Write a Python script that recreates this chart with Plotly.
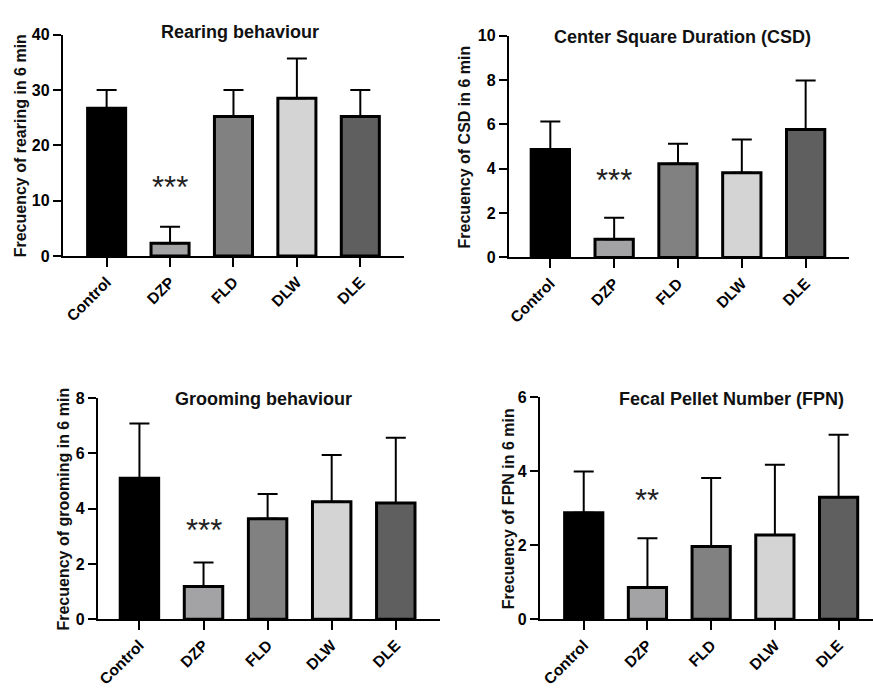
import plotly.graph_objects as go

W, H = 873, 689

categories = ["Control", "DZP", "FLD", "DLW", "DLE"]
colors = ["#000000", "#a3a3a5", "#818181", "#d4d4d4", "#5f5f5f"]

titles = ["Rearing behaviour", "Center Square Duration (CSD)",
          "Grooming behaviour", "Fecal Pellet Number (FPN)"]
ytitles = ["Frecuency of rearing in 6 min", "Frecuency of CSD in 6 min",
           "Frecuency of grooming in 6 min", "Frecuency of FPN in 6 min"]

rearing_mean = [26.7, 2.3, 25.2, 28.5, 25.2]
rearing_top = [30.0, 5.3, 30.0, 35.7, 30.0]
csd_mean = [4.87, 0.82, 4.22, 3.82, 5.77]
csd_top = [6.13, 1.79, 5.12, 5.31, 7.97]
grooming_mean = [5.10, 1.18, 3.64, 4.25, 4.21]
grooming_top = [7.08, 2.05, 4.53, 5.94, 6.57]
fpn_mean = [2.88, 0.86, 1.97, 2.28, 3.30]
fpn_top = [4.0, 2.19, 3.82, 4.18, 4.99]

means = [rearing_mean, csd_mean, grooming_mean, fpn_mean]
tops = [rearing_top, csd_top, grooming_top, fpn_top]

yranges = [[0, 40], [0, 10], [0, 8], [0, 6]]
ydticks = [10, 2, 2, 2]
sig_labels = ["***", "***", "***", "**"]
sig_y = [12.3, 3.45, 3.2, 3.2]

# panel geometry (pixels)
px_x = [(61, 403), (508, 849), (96, 439), (539, 873)]
px_y = [(27.3, 254.3), (28.3, 255.7), (400, 626.7), (399.3, 626.7)]
xranges = [[-0.69, 4.69], [-0.65, 4.68], [-0.65, 4.69], [-0.69, 4.54]]
title_pos = [(239, 25), (682, 30), (262, 401), (731, 401)]
ytitle_x = [18, 464, 62, 508]

fig = go.Figure()
font_family = "Liberation Sans, Arial, sans-serif"

for i in range(4):
    xa = "x" if i == 0 else f"x{i+1}"
    ya = "y" if i == 0 else f"y{i+1}"
    err_plus = [t - m for t, m in zip(tops[i], means[i])]
    fig.add_trace(go.Bar(
        x=list(range(5)), y=means[i], xaxis=xa, yaxis=ya,
        width=0.6,
        marker=dict(color=colors, line=dict(color="black", width=3)),
        error_y=dict(type="data", symmetric=False, array=err_plus,
                     arrayminus=[0] * 5, color="black", thickness=2, width=10),
        showlegend=False, hoverinfo="skip",
    ))
    x0, x1 = px_x[i]
    yt, yb = px_y[i]
    xk = "xaxis" if i == 0 else f"xaxis{i+1}"
    yk = "yaxis" if i == 0 else f"yaxis{i+1}"
    fig.layout[xk] = dict(
        domain=[x0 / W, x1 / W], range=xranges[i], anchor=ya,
        tickmode="array", tickvals=list(range(5)), ticktext=categories,
        tickangle=-45, ticks="outside", ticklen=9, tickwidth=2, tickcolor="black",
        showline=True, linecolor="black", linewidth=2, showgrid=False, zeroline=False,
        tickfont=dict(family=font_family, size=15.5, color="black", weight="bold"),
        fixedrange=True,
    )
    fig.layout[yk] = dict(
        domain=[1 - yb / H, 1 - yt / H], range=yranges[i], anchor=xa,
        dtick=ydticks[i], tick0=0, ticks="outside", ticklen=8, tickwidth=2,
        tickcolor="black", showline=True, linecolor="black", linewidth=2,
        showgrid=False, zeroline=False,
        tickfont=dict(family=font_family, size=16, color="black", weight="bold"),
        fixedrange=True,
    )
    tx, ty = title_pos[i]
    fig.add_annotation(x=tx / W, y=1 - ty / H, xref="paper", yref="paper",
                       text=titles[i], showarrow=False, xanchor="center", yanchor="middle",
                       font=dict(family=font_family, size=18, color="#111111", weight="bold"))
    fig.add_annotation(x=ytitle_x[i] / W, y=1 - ((yt + yb) / 2) / H, xref="paper", yref="paper",
                       text=ytitles[i], showarrow=False, textangle=-90,
                       xanchor="center", yanchor="middle",
                       font=dict(family=font_family, size=16, color="#111111", weight="bold"))
    fig.add_annotation(x=1, y=sig_y[i], xref=xa, yref=ya, text=sig_labels[i],
                       showarrow=False, xanchor="center", yanchor="middle",
                       font=dict(family=font_family, size=31, color="#222222"))

fig.update_layout(
    width=W, height=H, margin=dict(l=0, r=0, t=0, b=0),
    paper_bgcolor="white", plot_bgcolor="white", bargap=0.4,
)

fig.write_html("out.html")
